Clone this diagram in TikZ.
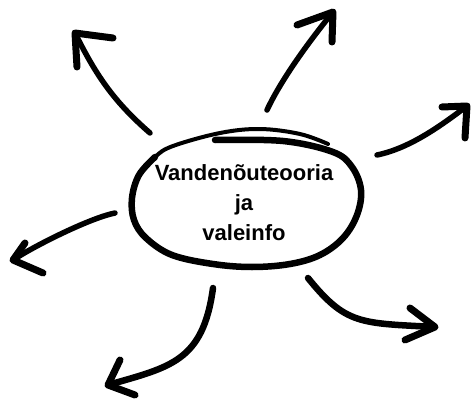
\documentclass[tikz,border=0pt]{standalone}
\usepackage{fontspec}
\setmainfont{Liberation Sans}
\usepackage{tikz}
\usetikzlibrary{calc}

\begin{document}
\begin{tikzpicture}[x=1pt,y=-1pt,
    shaft/.style={line width=5.5pt, line cap=round, line join=round},
    barb/.style={line width=7pt, line cap=round, line join=round}]
      \useasboundingbox (0,0) rectangle (472,399);
      % the ring (one stroke that overshoots at the top) and its text
      \draw[line width=4pt, line cap=round] plot[smooth, tension=0.6] coordinates {(215,140) (283,141) (333,152) (352,167) (361,190) (357,215) (343,238) (320,255) (290,264) (252,267) (213,264) (172,255) (146,238) (134,220) (132,198) (139,175) (155,157) (173,146) (220,133) (260,129) (300,134) (328,144)};
      \draw[line width=6.5pt, line cap=round] plot[smooth, tension=0.6] coordinates {(215,140) (283,141) (333,152) (352,167) (361,190) (357,215) (343,238) (320,255) (290,264) (252,267) (213,264) (172,255) (146,238) (134,220) (132,198) (139,175) (155,157)};
      \node[align=center, inner sep=0pt, font=\fontsize{22}{30}\selectfont\bfseries](vandenou) at (244,203) {Vandenõuteooria\\ja\\valeinfo};
      % ends of the arrows
      \coordinate (s1) at (150,133); \coordinate (t1) at (75,33);
      \coordinate (s2) at (267,110); \coordinate (t2) at (333,12);
      \coordinate (s3) at (377,155); \coordinate (t3) at (467,106);
      \coordinate (s4) at (115,213); \coordinate (t4) at (13,260);
      \coordinate (s5) at (213,288); \coordinate (t5) at (108,385);
      \coordinate (s6) at (308,278); \coordinate (t6) at (435,327);
      % shafts
      \draw[shaft] (s1) .. controls (112,100) and (95,73) .. (t1);
      \draw[shaft] (s2) .. controls (282,78) and (311,39) .. (t2);
      \draw[shaft] (s3) .. controls (411,148) and (443,124) .. (t3);
      \draw[shaft] (s4) .. controls (90,218) and (34,246) .. (t4);
      \draw[shaft, line width=6.5pt] (s5) .. controls (203,362) and (170,367) .. (t5);
      \draw[shaft, line width=6.5pt] (s6) .. controls (346,325) and (360,323) .. (t6);
      % heads
      \draw[barb] ($(t1)+(38,5)$) -- (t1) -- ($(t1)+(2,34)$);
      \draw[barb] ($(t2)+(-36,13)$) -- (t2) -- ($(t2)+(-1,30)$);
      \draw[barb] ($(t3)+(-25,1)$) -- (t3) -- ($(t3)+(-2,32)$);
      \draw[barb] ($(t4)+(12,-17)$) -- (t4) -- ($(t4)+(30,13)$);
      \draw[barb] ($(t5)+(12,-25)$) -- (t5) -- ($(t5)+(27,10)$);
      \draw[barb] ($(t6)+(-25,-19)$) -- (t6) -- ($(t6)+(-30,13)$);
    \end{tikzpicture}
\end{document}
